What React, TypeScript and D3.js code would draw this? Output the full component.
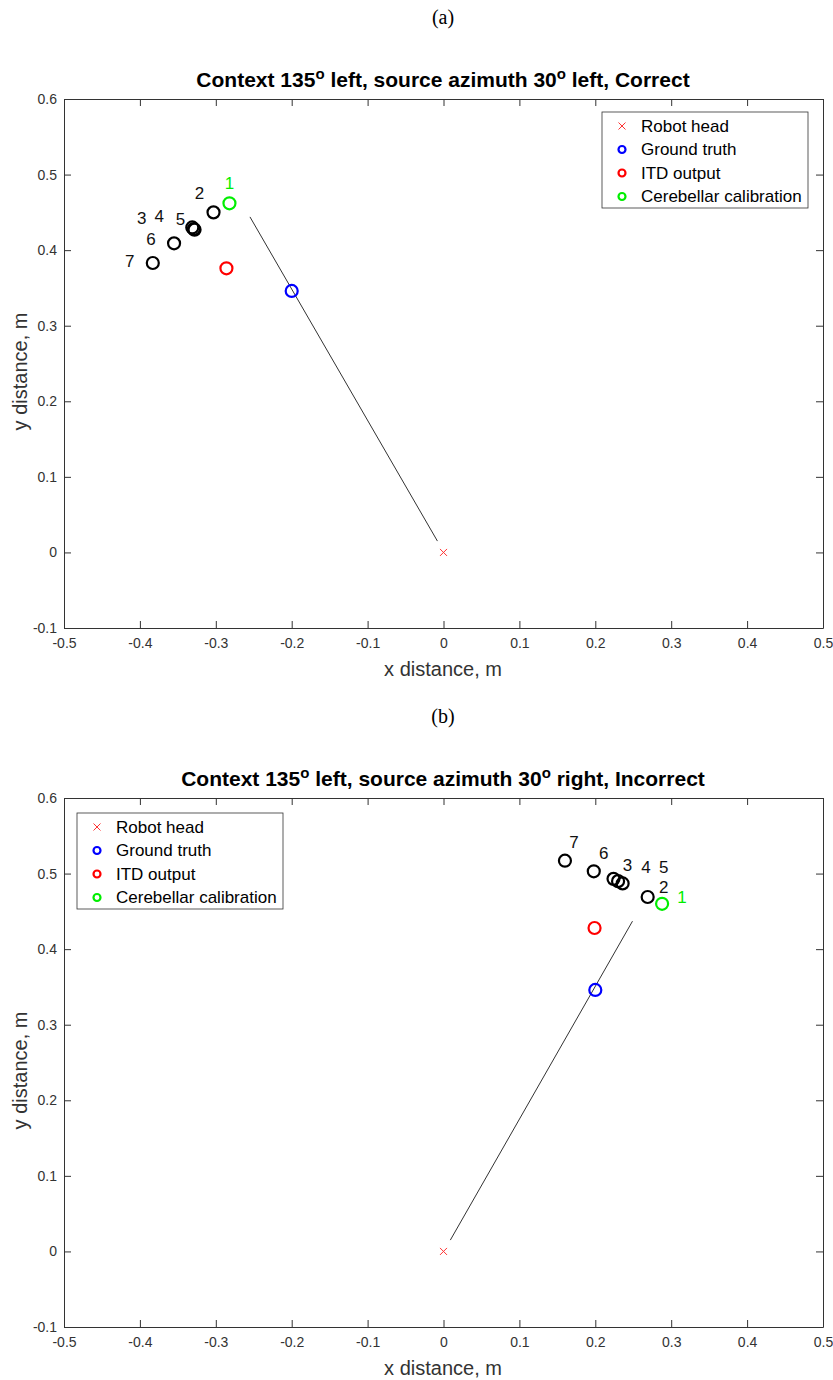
import React, { useRef, useEffect } from 'react';
import * as d3 from 'd3';

// axis ticks
const xTicks = [-0.5, -0.4, -0.3, -0.2, -0.1, 0, 0.1, 0.2, 0.3, 0.4, 0.5];
const yTicks = [-0.1, 0, 0.1, 0.2, 0.3, 0.4, 0.5, 0.6];
const legendLabels = ['Robot head', 'Ground truth', 'ITD output', 'Cerebellar calibration'];

// panel (a): context 135 left, source 30 left
const headA = [0, 0];
const truthA = [-0.2, 0.346];
const itdA = [-0.286, 0.376];
const calibA = [-0.282, 0.462];
const iterXA = [-0.303, -0.329, -0.331, -0.328, -0.355, -0.383];
const iterYA = [0.45, 0.428, 0.43, 0.427, 0.409, 0.383];
const iterNamesA = ['2', '3', '4', '5', '6', '7'];
const lineXA = [-0.008, -0.255];
const lineYA = [0.015, 0.444];

// panel (b): context 135 left, source 30 right
const headB = [0, 0];
const truthB = [0.2, 0.346];
const itdB = [0.199, 0.428];
const calibB = [0.288, 0.46];
const iterXB = [0.269, 0.224, 0.23, 0.236, 0.198, 0.16];
const iterYB = [0.469, 0.493, 0.49, 0.487, 0.503, 0.517];
const iterNamesB = ['2', '3', '4', '5', '6', '7'];
const lineXB = [0.009, 0.249];
const lineYB = [0.015, 0.437];

const FONT = '"Liberation Sans", Arial, Helvetica, sans-serif';
const AX = '#333';

const drawPanel = (root, cfg) => {
  const { top, letter, titleParts, head, truth, itd, calib, iterX, iterY, iterNames, lineX, lineY, calibOff, iterOff, legendAt } = cfg;
  const left = 64, right = 823, plotH = 529;
  const g = root.append('g');

  const x = d3.scaleLinear().domain([-0.5, 0.5]).range([left, right]);
  const y = d3.scaleLinear().domain([-0.1, 0.6]).range([top + plotH, top]);
  const fmt = d => String(+d.toFixed(1));

  // panel letter
  g.append('text')
    .attr('x', 443).attr('y', top - 75)
    .attr('text-anchor', 'middle')
    .style('font-family', '"Liberation Serif", "DejaVu Serif", serif')
    .style('font-size', '20px')
    .text(`(${letter})`);

  // title with superscript "o"
  const title = g.append('text')
    .attr('x', 443).attr('y', top - 12)
    .attr('text-anchor', 'middle')
    .attr('fill', '#000')
    .style('font-family', FONT)
    .style('font-size', '21px')
    .style('font-weight', 'bold');
  titleParts.forEach((p, i) => {
    const t = title.append('tspan').text(p);
    if (i > 0) t.attr('dy', 8);
    if (i < titleParts.length - 1) {
      title.append('tspan').attr('dy', -8).style('font-size', '15px').text('o');
    }
  });

  // axes (ticks inward, box)
  const styleAxis = sel => sel
    .call(s => s.select('.domain').attr('stroke', AX))
    .call(s => s.selectAll('.tick line').attr('stroke', AX))
    .call(s => s.selectAll('.tick text')
      .attr('fill', AX)
      .style('font-family', FONT)
      .style('font-size', '14px'));

  g.append('g')
    .attr('transform', `translate(0,${top + plotH})`)
    .call(d3.axisBottom(x).tickValues(xTicks).tickFormat(fmt).tickSizeInner(-7).tickSizeOuter(0).tickPadding(10))
    .call(styleAxis);
  g.append('g')
    .attr('transform', `translate(0,${top})`)
    .call(d3.axisTop(x).tickValues(xTicks).tickFormat(() => '').tickSizeInner(-7).tickSizeOuter(0))
    .call(styleAxis);
  g.append('g')
    .attr('transform', `translate(${left},0)`)
    .call(d3.axisLeft(y).tickValues(yTicks).tickFormat(fmt).tickSizeInner(-7).tickSizeOuter(0).tickPadding(7))
    .call(styleAxis);
  g.append('g')
    .attr('transform', `translate(${right},0)`)
    .call(d3.axisRight(y).tickValues(yTicks).tickFormat(() => '').tickSizeInner(-7).tickSizeOuter(0))
    .call(styleAxis);

  // axis labels
  g.append('text')
    .attr('x', 443).attr('y', top + plotH + 48)
    .attr('text-anchor', 'middle')
    .attr('fill', AX)
    .style('font-family', FONT)
    .style('font-size', '20px')
    .text('x distance, m');
  g.append('text')
    .attr('transform', `translate(27,${top + plotH / 2 + 8}) rotate(-90)`)
    .attr('text-anchor', 'middle')
    .attr('fill', AX)
    .style('font-family', FONT)
    .style('font-size', '20px')
    .text('y distance, m');

  // azimuth line
  const line = d3.line().x(d => x(d[0])).y(d => y(d[1]));
  g.append('path')
    .datum(lineX.map((v, i) => [v, lineY[i]]))
    .attr('d', line)
    .attr('fill', 'none')
    .attr('stroke', '#333')
    .attr('stroke-width', 1);

  // robot head
  const cross = (sel, cx, cy, s, color) => {
    sel.append('path')
      .attr('d', `M${cx - s},${cy - s}L${cx + s},${cy + s}M${cx - s},${cy + s}L${cx + s},${cy - s}`)
      .attr('stroke', color)
      .attr('stroke-width', 1)
      .attr('fill', 'none');
  };
  cross(g, x(head[0]), y(head[1]), 3.5, '#ff3333');

  const ring = (sel, cx, cy, r, color) => sel.append('circle')
    .attr('cx', cx).attr('cy', cy).attr('r', r)
    .attr('fill', 'none')
    .attr('stroke', color)
    .attr('stroke-width', 2.2);

  // iterations
  iterX.forEach((v, i) => {
    ring(g, x(v), y(iterY[i]), 6, '#000');
    g.append('text')
      .attr('x', x(v) + iterOff[i][0])
      .attr('y', y(iterY[i]) + iterOff[i][1])
      .attr('dy', '0.35em')
      .attr('text-anchor', 'middle')
      .attr('fill', '#111')
      .style('font-family', FONT)
      .style('font-size', '17px')
      .text(iterNames[i]);
  });

  ring(g, x(truth[0]), y(truth[1]), 6, '#0000ff');
  ring(g, x(itd[0]), y(itd[1]), 6, '#ff0000');
  ring(g, x(calib[0]), y(calib[1]), 6, '#00ee00');
  g.append('text')
    .attr('x', x(calib[0]) + calibOff[0])
    .attr('y', y(calib[1]) + calibOff[1])
    .attr('dy', '0.35em')
    .attr('text-anchor', 'middle')
    .attr('fill', '#00ee00')
    .style('font-family', FONT)
    .style('font-size', '17px')
    .text('1');

  // legend
  const [lx, ly] = legendAt;
  const lg = g.append('g').attr('transform', `translate(${lx},${ly})`);
  lg.append('rect')
    .attr('width', 206).attr('height', 96)
    .attr('fill', '#fff')
    .attr('stroke', AX)
    .attr('stroke-width', 0.8);
  const colors = ['#ff3333', '#0000ff', '#ff0000', '#00ee00'];
  legendLabels.forEach((lab, i) => {
    const ry = 14 + i * 23.5;
    if (i === 0) cross(lg, 20, ry, 3.5, colors[0]);
    else ring(lg, 20, ry, 3.5, colors[i]);
    lg.append('text')
      .attr('x', 39).attr('y', ry)
      .attr('dy', '0.35em')
      .attr('fill', '#000')
      .style('font-family', FONT)
      .style('font-size', '17px')
      .text(lab);
  });
};

const App = () => {
  const svgRef = useRef(null);

  useEffect(() => {
    if (!svgRef.current) return;
    const svg = d3.select(svgRef.current);
    svg.selectAll('*').remove();

    drawPanel(svg, {
      top: 99,
      letter: 'a',
      titleParts: ['Context 135', ' left, source azimuth 30', ' left, Correct'],
      head: headA, truth: truthA, itd: itdA, calib: calibA,
      iterX: iterXA, iterY: iterYA, iterNames: iterNamesA,
      lineX: lineXA, lineY: lineYA,
      calibOff: [0, -20],
      iterOff: [[-14, -19], [-52, -11], [-33, -11], [-14, -11], [-23, -4], [-23, -2]],
      legendAt: [602, 112],
    });

    drawPanel(svg, {
      top: 798,
      letter: 'b',
      titleParts: ['Context 135', ' left, source azimuth 30', ' right, Incorrect'],
      head: headB, truth: truthB, itd: itdB, calib: calibB,
      iterX: iterXB, iterY: iterYB, iterNames: iterNamesB,
      lineX: lineXB, lineY: lineYB,
      calibOff: [20, -7],
      iterOff: [[16, -10], [14, -14], [28, -14], [41, -16], [10, -18], [9, -19]],
      legendAt: [77, 813],
    });
  }, []);

  return (
    <svg
      ref={svgRef}
      width={833}
      height={1380}
      style={{ position: 'absolute', left: 0, top: 0, background: '#fff' }}
    />
  );
};

export default App;
